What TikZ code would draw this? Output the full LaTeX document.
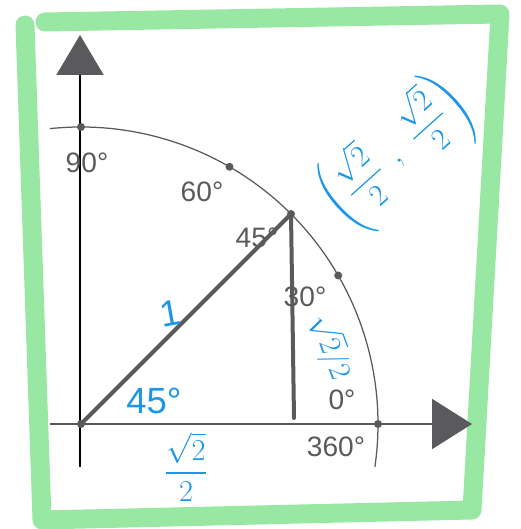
\documentclass[tikz,border=0pt]{standalone}
\usepackage{amsmath}
\usepackage{fontspec}
\setmainfont{Liberation Sans}
\usetikzlibrary{positioning,calc,arrows.meta}
\definecolor{axgray}{RGB}{90,90,92}
\definecolor{penblue}{RGB}{28,150,232}
\definecolor{marker}{RGB}{152,232,164}

\begin{document}
\begin{tikzpicture}[x=0.2mm,y=0.2mm,font=\fontsize{16}{18}\selectfont,
          dot/.style ={circle,fill=axgray,inner sep=0pt,minimum size=1.6mm},
          deg/.style ={text=axgray,inner sep=0pt},
          pen/.style ={text=penblue,inner sep=0pt},
          leg/.style ={draw=axgray,line width=0.8mm,line cap=round},
          frame/.style={draw=marker,line width=3.8mm,line cap=round,line join=round}]
        \useasboundingbox (0,0) rectangle (520,529);
        % marker frame
        \draw[frame] (45,507) -- (500,515) -- (472,19) -- (42,9) -- (25,504);
        % axes
        \coordinate (O) at (81,105);
        \coordinate (yb) at (80,62);
        \coordinate (yt) at (80,494);
        \coordinate (xl) at (50,105);
        \coordinate (xr) at (472,105);
        \draw[line width=0.4mm,-{Triangle[length=8mm,width=9.4mm,color=axgray]}] (yb) -- (yt);
        \draw[axgray,line width=0.4mm,-{Triangle[length=8mm,width=10mm]}] (xl) -- (xr);
        \draw[axgray,line width=0.25mm] ($(O)+(96:297)$) arc[start angle=96,end angle=-8.3,radius=59.4mm];
        % angle labels
        \node[deg] (l90) at (87,366) {90°};
        \node[deg] (l60) at (202,337) {60°};
        \node[deg] (l45) at (257,291) {45°};
        \node[deg] (l30) at (305,232) {30°};
        \node[deg] (l0) at (342,129) {0°};
        \node[deg] (l360) at (336,82) {360°};
        % points on the circle
        \node[dot] (o) at (O) {};
        \node[dot] (p90) at ($(O)+(90:297)$) {};
        \node[dot] (p60) at ($(O)+(60:297)$) {};
        \node[dot] (p45) at ($(O)+(45:297)$) {};
        \node[dot] (p30) at ($(O)+(30:297)$) {};
        \node[dot] (p0) at ($(O)+(0:297)$) {};
        \coordinate (foot) at (294,111);
        % triangle
        \draw[leg] (o.center) -- (p45.center);
        \draw[leg] (p45.center) -- (foot);
        % handwritten labels
        \node[pen,rotate=42,font=\LARGE] (pt) at (397,375) {$\left(\dfrac{\sqrt2}{2}\;\,,\;\,\dfrac{\sqrt2}{2}\right)$};
        \node[pen,rotate=10,font=\huge] (hyp) at (170,216) {1};
        \node[pen,font=\huge] (ang) at (154,128) {45°};
        \node[pen,font=\LARGE] (adj) at (186,62) {$\dfrac{\sqrt2}{2}$};
        \node[pen,rotate=-70,font=\LARGE] (opp) at (331,182) {$\sqrt2/2$};
      \end{tikzpicture}
\end{document}
